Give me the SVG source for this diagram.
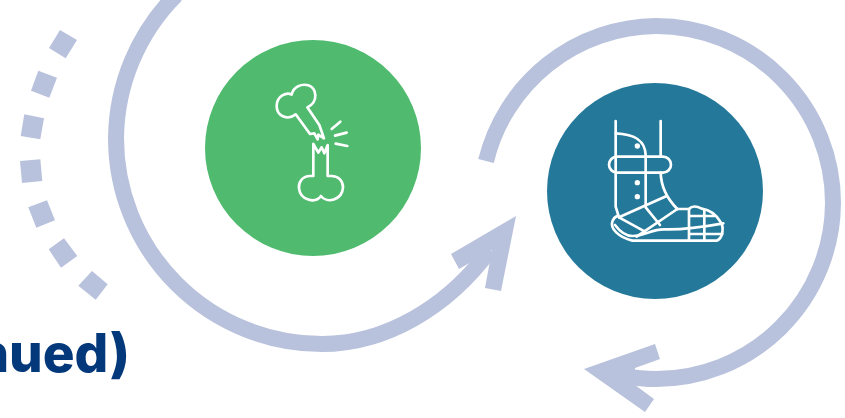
<svg xmlns="http://www.w3.org/2000/svg" width="845" height="418" viewBox="0 0 845 418">
<style>
.arc{fill:none;stroke:#B9C2DC;stroke-width:16}
.head,.dash{fill:#B9C2DC}
.ico{fill:none;stroke:#fff;stroke-width:8;stroke-linejoin:round;stroke-linecap:round}
.dot{fill:#fff}
.label{font-family:"Inter","Liberation Sans",sans-serif;font-weight:800;font-size:53px;fill:#03387A}
</style>
<rect width="845" height="418" fill="#fff"/>
<g id="connectors">
<path class="arc" d="M176 -5A206 206 0 0 0 116 138A206 206 0 0 0 322 344C385 344 447 308 490 250"/>
<polygon class="head" points="516,216 451,254 459,269 480,257 492,250 485,288 501,291"/>
<path class="arc" d="M486 161A177 177 0 0 1 656 26A177 177 0 0 1 833 203A177 177 0 0 1 656 379C645 379 635 378 622 376"/>
<polygon class="head" points="584,369 655,344 660,359 635,368 635,385 654,399 645,412"/>
<g id="dashes">
<polygon class="dash" points="60,30 77,40 65.7,58.3 49,48"/>
<polygon class="dash" points="38.3,70.7 57,77.7 49.3,97.7 31,90.7"/>
<polygon class="dash" points="24.3,114.3 44,118.3 40.3,139.3 20.7,136"/>
<polygon class="dash" points="20,161 40.3,159.3 42.3,181 22,183"/>
<polygon class="dash" points="28.3,207.3 47,200.3 55,220.3 36.3,227.7"/>
<polygon class="dash" points="48.7,249.3 64,238.3 77.3,256 61,267.7"/>
<polygon class="dash" points="78.3,285.7 92,271 107.7,284.3 95.7,299.7"/>
</g>
</g>
<g id="node-fracture">
<circle cx="313" cy="148" r="108" fill="#50BB6F"/>
<g transform="translate(255 70) scale(.3333)">
<path class="ico" d="M165 192L122 133C100 152 65 140 65 108C65 78 95 65 110 74C115 50 140 40 160 46C185 55 192 95 157 112L193 165L207 205L190 194L188 208L178 190Z"/>
<path class="ico" d="M175 222V318H165C140 318 130 340 132 355C136 390 180 402 198 378C215 402 262 390 264 352C264 332 250 318 230 318H218V225L208 250L200 232L190 248Z"/>
<path class="ico" d="M230 177L256 155M240 197L275 188M242 221L277 228"/>
</g>
</g>
<g id="node-cast">
<circle cx="655" cy="191" r="108" fill="#247899"/>
<g transform="translate(595 110) scale(.3333)">
<path class="ico" d="M62 33V290L72 322M197 33V140M197 188C198 225 215 265 247 297"/>
<path class="ico" d="M62 70C110 72 150 85 152 135V292L195 345"/>
<rect class="ico" x="42" y="140" width="186" height="48" rx="24"/>
<circle class="dot" cx="127" cy="108" r="8"/><circle class="dot" cx="127" cy="218" r="8"/><circle class="dot" cx="127" cy="260" r="8"/>
<path class="ico" d="M72 322L215 258M247 297L125 380M72 322L150 365"/>
<path class="ico" d="M247 297L282 297C290 288 305 288 320 296C345 300 365 315 378 338C386 350 385 385 365 392H112C70 382 45 355 52 335C55 325 62 320 66 318"/>
<path class="ico" d="M60 345C75 365 95 378 112 378C150 378 170 358 205 358C260 360 330 350 385 340"/>
<path class="ico" d="M282 297V390M328 300V390M282 318H358M282 372H382"/>
</g>
</g>
<text class="label" x="130" y="372" text-anchor="end">nued)</text>
</svg>
